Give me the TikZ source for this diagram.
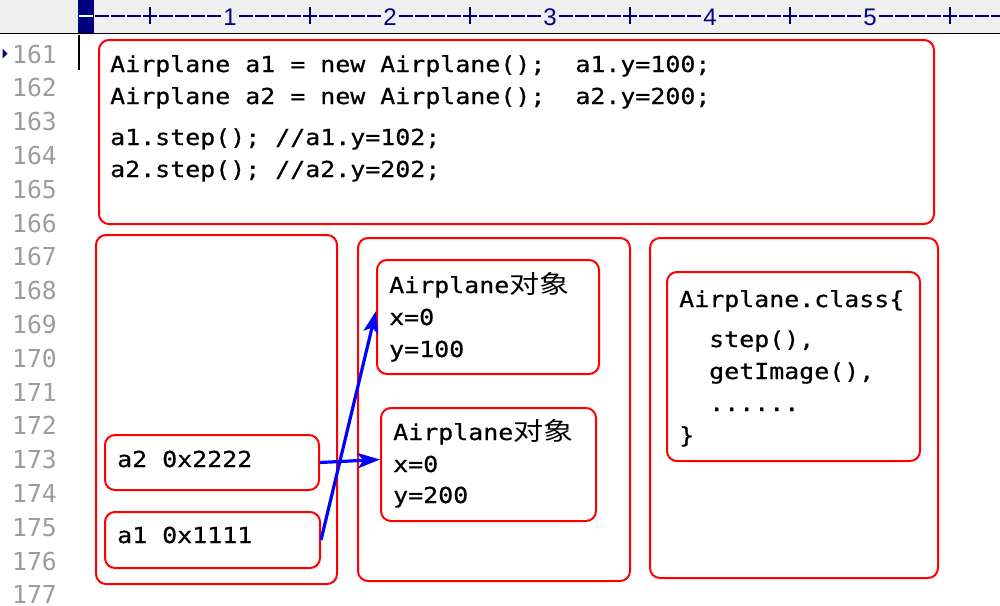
\documentclass[tikz,border=0pt]{standalone}
\usepackage{fontspec}
\setmainfont{Liberation Sans}
\setmonofont[FakeStretch=1.133, FakeBold=0.6]{DejaVu Sans Mono}
\newfontfamily\gutterfont{DejaVu Sans Mono}
\newfontfamily\cjk[FakeStretch=1.2]{Noto Sans CJK SC}
\usepackage{tikz}
\usetikzlibrary{arrows.meta,positioning}
\definecolor{boxred}{HTML}{FF0000}
\definecolor{refblue}{HTML}{0000FF}
\definecolor{rulernavy}{HTML}{000080}
\definecolor{rulerbg}{HTML}{F0F0F0}
\definecolor{guttergray}{HTML}{9C9C9C}

\begin{document}
\begin{tikzpicture}[
  x=1pt, y=-1pt,
  frame/.style={draw=boxred, line width=2pt, rounded corners=10pt, anchor=north west, inner sep=0pt},
  code/.style={anchor=base west, inner sep=0pt, font=\ttfamily\fontsize{22}{32}\selectfont},
  lineno/.style={anchor=base east, inner sep=0pt, text=guttergray, font=\gutterfont\fontsize{24.7}{30}\selectfont},
  rulemark/.style={rulernavy, line width=1.3pt},
  ref/.style={-{Stealth[length=22pt, width=15pt, inset=5pt]}, line width=3.2pt, color=refblue}
]
\useasboundingbox (0,0) rectangle (1000,605);

% ruler and gutter
\fill[rulerbg] (0,0) rectangle (1000,33);
\draw[line width=1.5pt] (0,33.5) -- (1000,33.5);
\fill[rulernavy] (78,0) rectangle (94,33);
\draw[white, line width=1.3pt] (79,16) -- (93,16);
\foreach \c in {2,...,58} {
  \pgfmathsetmacro\cx{70+16*\c}
  \pgfmathtruncatemacro\rem{mod(\c,10)}
  \pgfmathtruncatemacro\dec{\c/10}
  \ifnum\rem=0
    \node[inner sep=0pt, text=rulernavy, font=\fontsize{24}{24}\selectfont] (tick\c) at (\cx,17) {\dec};
  \else
    \draw[rulemark] (\cx-7,16) -- (\cx+7,16);
    \ifnum\rem=5
      \draw[rulemark] (\cx,7) -- (\cx,24);
    \fi
  \fi
}
\foreach \n in {161,...,177}
  \node[lineno] (ln\n) at (57,{63+33.8*(\n-161)}) {\n};
\fill[rulernavy] (2.5,48.5) -- (7.5,53.5) -- (2.5,58.5) -- cycle;
\draw[line width=1.6pt] (79,35) -- (79,70);

% boxes
\node[frame, minimum width=835pt, minimum height=184pt] (stmt) at (98,39) {};
\node[frame, minimum width=241pt, minimum height=349pt] (stack) at (95,234) {};
\node[frame, minimum width=272pt, minimum height=343pt] (heap) at (357,237) {};
\node[frame, minimum width=288pt, minimum height=340pt] (method) at (649,237) {};
\node[frame, minimum width=214pt, minimum height=55pt] (a2ref) at (104,434) {};
\node[frame, minimum width=215pt, minimum height=56pt] (a1ref) at (104,511) {};
\node[frame, minimum width=222pt, minimum height=114pt] (obj1) at (376,259) {};
\node[frame, minimum width=215pt, minimum height=113pt] (obj2) at (380,407) {};
\node[frame, minimum width=253pt, minimum height=189pt] (cls) at (666,271) {};

% texts
\node[code] (new1) at (110,72) {Airplane a1 = new Airplane();\ \ a1.y=100;};
\node[code] (new2) at (110,104) {Airplane a2 = new Airplane();\ \ a2.y=200;};
\node[code] (step1) at (110,145) {a1.step(); //a1.y=102;};
\node[code] (step2) at (110,177) {a2.step(); //a2.y=202;};

\node[code] (a2txt) at (117,467) {a2 0x2222};
\node[code] (a1txt) at (117,543) {a1 0x1111};

\node[code] (o1name) at (389,293) {Airplane{\cjk\fontsize{25}{32}\selectfont 对象}};
\node[code] (o1x) at (389,325) {x=0};
\node[code] (o1y) at (389,357) {y=100};
\node[code] (o2name) at (393,440) {Airplane{\cjk\fontsize{25}{32}\selectfont 对象}};
\node[code] (o2x) at (393,472) {x=0};
\node[code] (o2y) at (393,503) {y=200};

\node[code] (clshead) at (679,307) {Airplane.class\{};
\node[code] (clsstep) at (709,347) {step(),};
\node[code] (clsimg) at (709,379) {getImage(),};
\node[code] (clsmore) at (709,411) {......};
\node[code] (clsend) at (679,443) {\}};

% references
\draw[ref] (a1ref.east) -- ([yshift=6pt]obj1.west);
\draw[ref] (a2ref.east) -- ([yshift=5pt]obj2.west);
\end{tikzpicture}
\end{document}
